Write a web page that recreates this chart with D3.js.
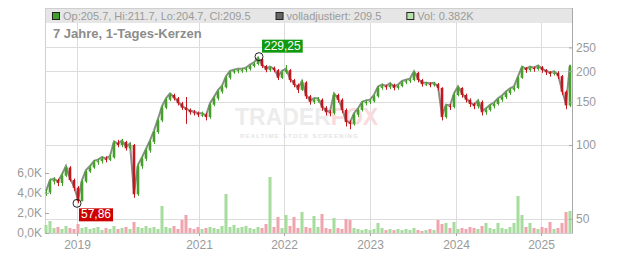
<!DOCTYPE html>
<html>
<head>
<meta charset="utf-8">
<script src="https://cdn.jsdelivr.net/npm/d3@7"></script>
<style>
    body { margin: 0; background: #fff; }
    svg { display: block; font-family: "Liberation Sans", Arial, sans-serif; }
</style>
</head>
<body>
<div id="chart"></div>
<script>
// closing prices, one sample every few trading days
const closes = [
    64, 71, 72, 70, 75, 81, 72, 67, 59, 71,
    78, 81, 85, 86, 88, 87, 89, 102, 100, 103,
    97, 100, 63, 82, 88, 95, 103, 113, 126, 142,
    153, 160, 155, 148, 142, 139, 136, 135, 133, 133,
    130, 146, 155, 165, 172, 188, 198, 200, 202, 202,
    204, 210, 214, 224, 210, 202, 206, 202, 188, 198,
    202, 184, 176, 168, 180, 158, 150, 153, 153, 142,
    136, 135, 160, 153, 139, 124, 122, 133, 139, 148,
    150, 151, 158, 171, 174, 172, 176, 171, 174, 180,
    182, 184, 197, 184, 177, 177, 176, 177, 171, 130,
    144, 143, 160, 171, 160, 153, 147, 144, 150, 136,
    139, 144, 147, 153, 157, 163, 168, 171, 188, 206,
    202, 206, 204, 208, 202, 198, 195, 197, 191, 165,
    145, 209.5
];

const highs = [
    66, 73, 74, 73, 77, 82, 82, 73, 68, 72,
    79, 83, 87, 88, 90, 90, 92, 104, 105, 106,
    104, 102, 101, 84, 90, 97, 105, 115, 128, 145,
    156, 163, 162, 157, 150, 157, 141, 139, 137, 137,
    135, 148, 158, 168, 176, 191, 201, 204, 205, 206,
    208, 213, 218, 229.25, 226, 212, 210, 209, 204, 201,
    212, 204, 186, 178, 184, 182, 160, 156, 157, 155,
    144, 139, 163, 162, 155, 141, 126, 135, 142, 151,
    153, 154, 161, 174, 178, 176, 180, 178, 177, 183,
    185, 188, 200, 199, 186, 181, 180, 181, 179, 172,
    146, 147, 163, 174, 172, 162, 155, 149, 153, 152,
    142, 147, 150, 156, 160, 166, 171, 175, 191, 210,
    208, 210, 209, 212, 210, 204, 200, 201, 200, 193,
    167, 211.7
];

const lows = [
    62, 63, 69, 68, 68, 74, 71, 65, 57.86, 59,
    70, 77, 80, 83, 84, 85, 86, 88, 98, 98,
    95, 95, 61, 62, 80, 86, 93, 101, 111, 124,
    140, 151, 152, 145, 139, 122, 133, 132, 130, 130,
    126, 128, 144, 152, 162, 170, 185, 195, 196, 197,
    198, 201, 207, 211, 206, 198, 199, 198, 184, 186,
    195, 180, 172, 163, 166, 154, 146, 147, 149, 138,
    132, 131, 133, 149, 135, 119, 116, 120, 130, 137,
    145, 147, 149, 156, 168, 168, 169, 167, 168, 172,
    177, 179, 182, 180, 173, 174, 172, 173, 167, 126,
    128, 139, 141, 158, 156, 149, 143, 140, 141, 132,
    133, 137, 141, 145, 150, 154, 160, 165, 169, 186,
    197, 199, 199, 201, 197, 193, 190, 192, 186, 160,
    140, 143
];

// volume in thousands, same samples
const volumes = [
    0.8, 1.2, 0.5, 0.6, 0.4, 0.7, 0.5, 0.4, 0.9, 0.5,
    0.6, 0.4, 0.5, 0.6, 0.3, 0.5, 0.4, 0.7, 0.4, 0.5,
    0.6, 0.4, 1.1, 0.6, 0.5, 0.7, 0.5, 0.6, 0.4, 2.7,
    0.6, 0.5, 0.7, 0.4, 1.3, 1.8, 0.5, 0.4, 0.6, 0.4,
    0.5, 0.6, 0.5, 0.4, 0.7, 3.9, 0.6, 0.8, 0.5, 0.6,
    0.7, 0.5, 0.4, 0.6, 0.5, 0.9, 5.6, 0.6, 1.6, 0.5,
    1.8, 0.7, 1.6, 0.5, 2.1, 0.6, 0.5, 1.7, 0.6, 1.9,
    0.5, 0.4, 1.5, 0.5, 0.4, 1.4, 1.3, 0.5, 0.4, 0.3,
    0.4, 0.3, 0.4, 1.0, 0.5, 0.3, 0.4, 0.3, 0.4, 0.3,
    0.4, 0.3, 0.5, 0.3, 0.2, 0.3, 0.4, 0.3, 1.3, 0.9,
    1.0, 0.5, 1.1, 0.4, 0.5, 0.4, 0.6, 0.5, 0.4, 0.7,
    1.0, 0.5, 0.4, 1.0, 0.5, 0.4, 0.6, 1.0, 3.7, 1.8,
    0.6, 1.0, 0.5, 0.4, 0.6, 0.5, 1.1, 0.4, 0.5, 1.0,
    2.1, 2.2
];

const priceTicks = [50, 100, 150, 200, 250];
const volumeTicks = [0, 2, 4, 6];
const yearLabels = ['2019', '2021', '2022', '2023', '2024', '2025'];
const yearIndex = [7.75, 38.25, 59.5, 81, 102.5, 123.75];

const lastBar = {op: '205.7', hi: '211.7', lo: '204.7', cl: '209.5', adj: '209.5', vol: '0.382K'};
const extremes = [
    {idx: 7.75, value: 57.86, label: '57,86', kind: 'low'},
    {idx: 53.25, value: 229.25, label: '229,25', kind: 'high'}
];

const width = 632;
const height = 253;
const margin = {top: 8, right: 60, bottom: 20, left: 45};
const chartWidth = width - margin.left - margin.right;
const chartHeight = height - margin.top - margin.bottom;

const upColor = '#45a02a';
const downColor = '#c4161c';
const textColor = '#9a9a9a';
const gridColor = '#dcdcdc';

const bars = closes.map((c, i) => ({
    i,
    open: i ? closes[i - 1] : c,
    close: c,
    high: highs[i],
    low: lows[i],
    vol: volumes[i]
}));

let xScale, yScale, volScale;

function buildScales() {
    xScale = d3.scaleLinear()
        .domain([-0.25, closes.length - 0.5])
        .range([0, chartWidth]);

    yScale = d3.scaleLog()
        .domain([43.8, 362])
        .range([chartHeight, 0]);

    volScale = d3.scaleLinear()
        .domain([0, 22.5])
        .range([chartHeight, 0]);
}

const svg = d3.select('#chart')
  .append('svg')
    .attr('width', width)
    .attr('height', height);

const g = svg.append('g')
    .attr('transform', `translate(${margin.left},${margin.top})`);

function drawGrid() {
    g.append('g').selectAll('line')
        .data(priceTicks)
      .join('line')
        .attr('x1', 0).attr('x2', chartWidth)
        .attr('y1', d => Math.round(yScale(d)) + 0.5)
        .attr('y2', d => Math.round(yScale(d)) + 0.5)
        .attr('stroke', gridColor);

    g.append('g').selectAll('line')
        .data(yearIndex)
      .join('line')
        .attr('x1', d => Math.round(xScale(d)) + 0.5)
        .attr('x2', d => Math.round(xScale(d)) + 0.5)
        .attr('y1', 0).attr('y2', chartHeight)
        .attr('stroke', gridColor);

    // header band + frame
    g.append('rect')
        .attr('x', 0).attr('y', 0)
        .attr('width', chartWidth).attr('height', 15)
        .attr('fill', '#e6e6e6');
    g.append('rect')
        .attr('x', 0.5).attr('y', 0.5)
        .attr('width', chartWidth).attr('height', chartHeight)
        .attr('fill', 'none')
        .attr('stroke', '#cfcfcf');
}

function drawWatermark() {
    const wm = g.append('g')
        .attr('transform', 'translate(190,117)')
        .attr('font-weight', 'bold');
    const t = wm.append('text')
        .attr('font-size', 23)
        .attr('fill', '#ececec');
    t.append('tspan').text('TRADER');
    t.append('tspan').attr('fill', '#f9dadd').text('FOX');
    wm.append('text')
        .attr('x', 5).attr('y', 13)
        .attr('font-size', 6)
        .attr('letter-spacing', 1.2)
        .attr('fill', '#e4e4e4')
        .text('REALTIME STOCK SCREENING');
}

function drawVolume() {
    g.append('g').selectAll('rect')
        .data(bars)
      .join('rect')
        .attr('x', d => xScale(d.i) - 1.5)
        .attr('width', 3)
        .attr('y', d => volScale(d.vol))
        .attr('height', d => chartHeight - volScale(d.vol))
        .attr('fill', d => d.close >= d.open ? '#a6dc9c' : '#f0a4ac');
}

function drawPrice() {
    const line = d3.line()
        .x(d => xScale(d.i))
        .y(d => yScale(d.close));

    g.append('path')
        .datum(bars)
        .attr('d', line)
        .attr('transform', 'translate(0,-1.5)')
        .attr('fill', 'none')
        .attr('stroke', '#8c8c8c')
        .attr('stroke-width', 2);

    const candles = g.append('g').selectAll('g')
        .data(bars)
      .join('g')
        .attr('fill', d => d.close >= d.open ? upColor : downColor)
        .attr('stroke', d => d.close >= d.open ? upColor : downColor);

    candles.append('line')
        .attr('x1', d => Math.round(xScale(d.i)) + 0.5)
        .attr('x2', d => Math.round(xScale(d.i)) + 0.5)
        .attr('y1', d => yScale(d.high))
        .attr('y2', d => yScale(d.low));

    candles.append('rect')
        .attr('stroke', 'none')
        .attr('x', d => xScale(d.i) - 1.3)
        .attr('width', 2.6)
        .attr('y', d => yScale(Math.max(d.open, d.close)))
        .attr('height', d => Math.max(1, Math.abs(yScale(d.open) - yScale(d.close))));
}

function drawAxes() {
    const right = g.append('g')
        .attr('transform', `translate(${chartWidth},0)`)
        .call(d3.axisRight(yScale).tickValues(priceTicks).tickFormat(d3.format('d')).tickSize(1).tickPadding(3));
    right.select('.domain').attr('stroke', '#a8a8a8').attr('d', `M0.5,0V${chartHeight}`);
    right.selectAll('.tick line').attr('x1', -3).attr('stroke', '#a8a8a8');

    const left = g.append('g')
        .call(d3.axisLeft(volScale)
            .tickValues(volumeTicks)
            .tickFormat(d => d3.format('.1f')(d).replace('.', ',') + 'K')
            .tickSize(0).tickPadding(3));
    left.select('.domain').remove();
    left.selectAll('.tick line').attr('x2', 4).attr('stroke', '#a8a8a8');

    const bottom = g.append('g')
        .attr('transform', `translate(0,${chartHeight})`)
        .call(d3.axisBottom(xScale).tickValues(yearIndex).tickFormat((d, i) => yearLabels[i]).tickSize(3).tickPadding(4));
    bottom.select('.domain').remove();
    bottom.selectAll('.tick line').attr('stroke', '#a8a8a8');

    g.selectAll('.tick text')
        .attr('font-size', 12)
        .attr('font-family', '"Liberation Sans", Arial, sans-serif')
        .attr('fill', textColor);
}

function drawExtremes() {
    extremes.forEach(e => {
        const cx = xScale(e.idx);
        const cy = yScale(e.value);
        g.append('circle')
            .attr('cx', cx).attr('cy', cy).attr('r', 4)
            .attr('fill', 'none').attr('stroke', '#222');

        const bx = cx + (e.kind === 'high' ? 3 : 2);
        const by = e.kind === 'high' ? cy - 17 : cy + 5;
        const label = g.append('g').attr('transform', `translate(${bx},${by})`);
        const txt = label.append('text')
            .attr('x', 2).attr('y', 10)
            .attr('font-size', 12)
            .attr('fill', '#fff')
            .text(e.label);
        const w = txt.node().getComputedTextLength() + 4;
        label.insert('rect', 'text')
            .attr('width', w).attr('height', 13)
            .attr('fill', e.kind === 'high' ? '#109a10' : '#cc0000');
    });
}

function drawLegend() {
    const items = [
        {fill: '#3fa02a', text: `Op:${lastBar.op}, Hi:${lastBar.hi}, Lo:${lastBar.lo}, Cl:${lastBar.cl}`},
        {fill: '#666', text: `volladjustiert: ${lastBar.adj}`},
        {fill: '#b4e2aa', text: `Vol: ${lastBar.vol}`}
    ];
    let x = 7;
    items.forEach(it => {
        g.append('rect')
            .attr('x', x + 0.5).attr('y', 4.5)
            .attr('width', 7).attr('height', 7)
            .attr('fill', it.fill).attr('stroke', '#222');
        const t = g.append('text')
            .attr('x', x + 11).attr('y', 11.5)
            .attr('font-size', 11)
            .attr('fill', textColor)
            .text(it.text);
        x += 11 + t.node().getComputedTextLength() + 25;
    });

    g.append('text')
        .attr('x', 8).attr('y', 29.5)
        .attr('font-size', 13)
        .attr('font-weight', 'bold')
        .attr('fill', '#8c8c8c')
        .text('7 Jahre, 1-Tages-Kerzen');
}

buildScales();
drawGrid();
drawWatermark();
drawVolume();
drawPrice();
drawAxes();
drawExtremes();
drawLegend();
</script>
</body>
</html>
